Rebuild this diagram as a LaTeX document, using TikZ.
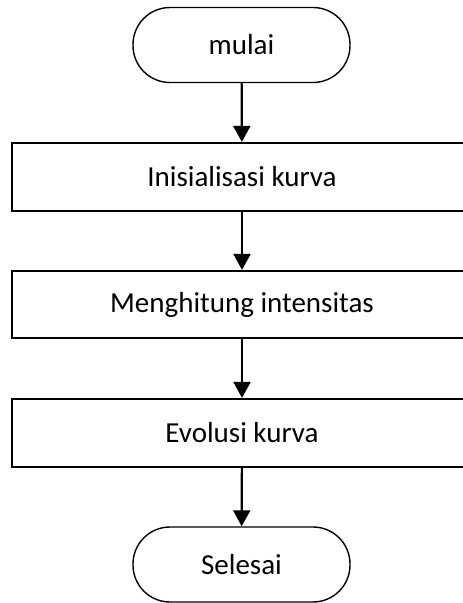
\documentclass[tikz,border=0pt]{standalone}
\usepackage{fontspec}
\setmainfont{Carlito}
\usetikzlibrary{arrows.meta}
\begin{document}
\begin{tikzpicture}[x=1pt,y=1pt,
  term/.style={draw, line width=1.4pt, rounded corners=37pt, minimum width=217pt, minimum height=75pt, inner sep=0pt, font=\fontsize{29}{34}\selectfont},
  proc/.style={draw, line width=2.2pt, minimum width=460pt, inner sep=0pt, font=\fontsize{29}{34}\selectfont},
  flow/.style={line width=2.2pt, -{Triangle[length=16pt,width=17pt]}}]
\useasboundingbox (0,0) rectangle (463,-603);
\clip (0,0) rectangle (463,-603);
\node[term] (start) at (241.5,-45) {mulai};
\node[proc, minimum height=68pt] (p1) at (242,-177) {Inisialisasi kurva};
\node[proc, minimum height=67pt] (p2) at (242,-304.5) {Menghitung intensitas};
\node[proc, minimum height=68pt] (p3) at (242,-433) {Evolusi kurva};
\node[term] (stop) at (241.5,-564.5) {Selesai};
\draw[flow] (start) -- (p1);
\draw[flow] (p1) -- (p2);
\draw[flow] (p2) -- (p3);
\draw[flow] (p3) -- (stop);
\end{tikzpicture}
\end{document}
